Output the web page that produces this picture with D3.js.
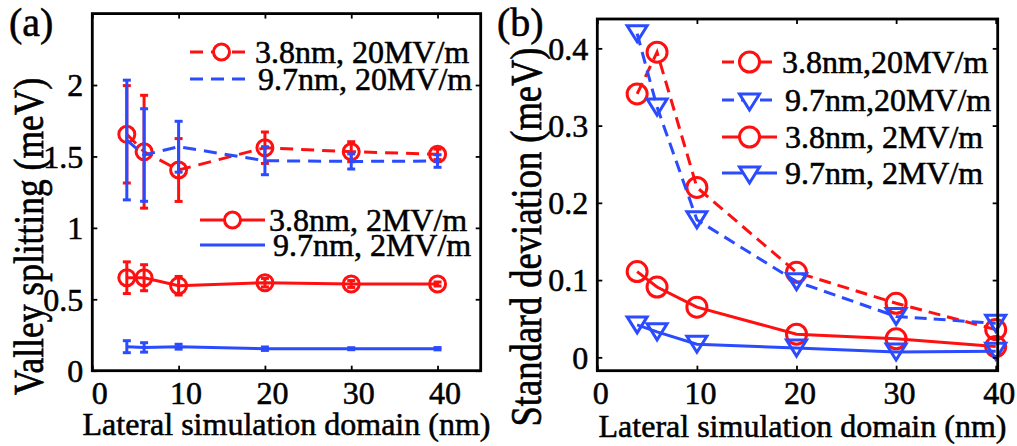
<!DOCTYPE html>
<html><head><meta charset="utf-8">
<script src="https://cdn.jsdelivr.net/npm/d3@7"></script>
<style>
body{margin:0;background:#fff}
svg{display:block}
text{font-family:"Liberation Serif","Times New Roman",Times,serif;fill:#000;stroke:#000;stroke-width:0.55px}
</style>
</head><body>
<svg id="c" width="1017" height="446"></svg>
<script>
// ---------------- data ----------------
const domains = [4, 6, 10, 20, 30, 40];              // lateral simulation domain (nm)
// panel (a): valley splitting (meV)
const vs_38_20 = [1.655, 1.533, 1.405, 1.561, 1.533, 1.515];
const vs_97_20 = [1.615, 1.510, 1.568, 1.470, 1.465, 1.468];
const vs_38_2  = [0.651, 0.651, 0.595, 0.616, 0.607, 0.607];
const vs_97_2  = [0.168, 0.163, 0.168, 0.154, 0.154, 0.154];
// panel (b): standard deviation (meV) (also error bars in (a))
const sd_38_20 = [0.341, 0.395, 0.220, 0.110, 0.070, 0.036];
const sd_97_20 = [0.419, 0.324, 0.178, 0.098, 0.053, 0.044];
const sd_38_2  = [0.111, 0.091, 0.065, 0.030, 0.024, 0.014];
const sd_97_2  = [0.042, 0.033, 0.017, 0.012, 0.007, 0.008];
const xTicks = [0, 10, 20, 30, 40];
const xTickLabels = ["0", "10", "20", "30", "40"];
const yTicksA = [0, 0.5, 1, 1.5, 2];
const yTickLabelsA = ["0", "0.5", "1", "1.5", "2"];
const yTicksB = [0, 0.1, 0.2, 0.3, 0.4];
const yTickLabelsB = ["0", "0.1", "0.2", "0.3", "0.4"];
const legendA = ["3.8nm, 20MV/m", "9.7nm, 20MV/m", "3.8nm, 2MV/m", "9.7nm, 2MV/m"];
const legendB = ["3.8nm,20MV/m", "9.7nm,20MV/m", "3.8nm, 2MV/m", "9.7nm, 2MV/m"];
const xLabel = "Lateral simulation domain (nm)";
const yLabelA = "Valley splitting (meV)";
const yLabelB = "Standard deviation (meV)";

// ---------------- style ----------------
const RED = "#ff1010", BLUE = "#2b4bff";
const LW = 3;
const svg = d3.select("#c");
svg.append("rect").attr("width", 1017).attr("height", 446).attr("fill", "#fff");

function triPath(w, h) { return `M${-w},${-h}L${w},${-h}L0,${h}Z`; }

function drawAxes(g, x, y, yTicks, yLabels, xdx) {
  const [x0, x1] = x.range(), [y0, y1] = y.range();
  const style = sel => {
    sel.select(".domain").remove();
    sel.attr("font-family", null).attr("font-size", null);
    sel.selectAll(".tick line").attr("stroke", "#000").attr("stroke-width", 1.8);
  };
  g.append("g").attr("transform", `translate(0,${y0})`)
    .call(d3.axisBottom(x).tickValues(xTicks).tickSize(-5).tickFormat((d, i) => xTickLabels[i]))
    .call(style)
    .call(s => s.selectAll(".tick text").attr("y", 33).attr("dy", null).attr("dx", xdx).attr("font-size", 32));
  g.append("g").attr("transform", `translate(0,${y1})`)
    .call(d3.axisTop(x).tickValues(xTicks).tickSize(-5).tickFormat(""))
    .call(style);
  g.append("g").attr("transform", `translate(${x0},0)`)
    .call(d3.axisLeft(y).tickValues(yTicks).tickSize(-5).tickFormat((d, i) => yLabels[i]))
    .call(style)
    .call(s => s.selectAll(".tick text").attr("x", -9).attr("dy", "0.34em").attr("font-size", 32));
  g.append("g").attr("transform", `translate(${x1},0)`)
    .call(d3.axisRight(y).tickValues(yTicks).tickSize(-5).tickFormat(""))
    .call(style);
  g.append("rect").attr("x", x0).attr("y", y1).attr("width", x1 - x0).attr("height", y0 - y1)
    .attr("fill", "none").attr("stroke", "#000").attr("stroke-width", 2.8);
}

function drawSeries(g, x, y, vals, opts) {
  const line = d3.line().x((d, i) => x(domains[i])).y(d => y(d));
  g.append("path").datum(vals).attr("d", line).attr("fill", "none")
    .attr("stroke", opts.color).attr("stroke-width", LW)
    .attr("stroke-dasharray", opts.dash || null);
  if (opts.err) {
    const eg = g.append("g").attr("stroke", opts.color).attr("stroke-width", LW);
    vals.forEach((v, i) => {
      const cx = x(domains[i]), t = y(v + opts.err[i]), b = y(v - opts.err[i]);
      eg.append("line").attr("x1", cx).attr("x2", cx).attr("y1", t).attr("y2", b);
      eg.append("line").attr("x1", cx - 4).attr("x2", cx + 4).attr("y1", t).attr("y2", t);
      eg.append("line").attr("x1", cx - 4).attr("x2", cx + 4).attr("y1", b).attr("y2", b);
    });
  }
  if (opts.marker === "circle") {
    g.selectAll(null).data(vals).enter().append("circle")
      .attr("cx", (d, i) => x(domains[i])).attr("cy", d => y(d)).attr("r", opts.r)
      .attr("fill", "none").attr("stroke", opts.color).attr("stroke-width", LW);
  } else if (opts.marker === "tri") {
    g.selectAll(null).data(vals).enter().append("path")
      .attr("transform", (d, i) => `translate(${x(domains[i])},${y(d)})`)
      .attr("d", triPath(opts.w, opts.h))
      .attr("fill", "none").attr("stroke", opts.color).attr("stroke-width", LW).attr("stroke-linejoin", "miter");
  }
}

function legendEntry(g, x1, x2, y, tx, label, opts) {
  g.append("line").attr("x1", x1).attr("x2", x2).attr("y1", y).attr("y2", y)
    .attr("stroke", opts.color).attr("stroke-width", LW).attr("stroke-dasharray", opts.dash || null);
  const mx = (x1 + x2) / 2;
  if (opts.marker === "circle") {
    g.append("circle").attr("cx", mx).attr("cy", y).attr("r", opts.r)
      .attr("fill", "#fff").attr("stroke", opts.color).attr("stroke-width", LW);
  } else if (opts.marker === "tri") {
    g.append("path").attr("transform", `translate(${mx},${y + 2})`).attr("d", triPath(opts.w, opts.h))
      .attr("fill", "#fff").attr("stroke", opts.color).attr("stroke-width", LW);
  }
  g.append("text").attr("x", tx).attr("y", y + 11).attr("font-size", 32).text(label);
}

// ---------------- panel (a) ----------------
{
  const g = svg.append("g");
  const x = d3.scaleLinear().domain([0, 45]).range([92.3, 480.7]);
  const y = d3.scaleLinear().domain([0, 2.5]).range([370.7, 13.6]);
  drawSeries(g, x, y, vs_38_20, {color: RED, dash: "13,8", err: sd_38_20, marker: "circle", r: 8});
  drawSeries(g, x, y, vs_97_20, {color: BLUE, dash: "13,8", err: sd_97_20});
  drawSeries(g, x, y, vs_38_2, {color: RED, err: sd_38_2, marker: "circle", r: 8});
  drawSeries(g, x, y, vs_97_2, {color: BLUE, err: sd_97_2});
  drawAxes(g, x, y, yTicksA, yTickLabelsA, 7);
  const lg = svg.append("g");
  legendEntry(lg, 190, 253, 52, 255, legendA[0], {color: RED, dash: "13,8", marker: "circle", r: 8});
  legendEntry(lg, 190, 253, 79, 258, legendA[1], {color: BLUE, dash: "13,8"});
  legendEntry(lg, 200, 265, 220, 269, legendA[2], {color: RED, marker: "circle", r: 8});
  legendEntry(lg, 200, 265, 245, 273, legendA[3], {color: BLUE});
  svg.append("text").attr("x", 286.5).attr("y", 435).attr("text-anchor", "middle").attr("font-size", 32).text(xLabel);
  svg.append("text").attr("transform", "translate(43,236.5) scale(1.2,1) rotate(-90)")
    .attr("text-anchor", "middle").attr("font-size", 35.5).text(yLabelA);
  svg.append("text").attr("x", 9).attr("y", 36).attr("font-size", 40).text("(a)");
}

// ---------------- panel (b) ----------------
{
  const g = svg.append("g");
  const x = d3.scaleLinear().domain([0, 40.2]).range([597.3, 997.7]);
  const y = d3.scaleLinear().domain([-0.0173, 0.438]).range([370.7, 19]);
  drawSeries(g, x, y, sd_38_20, {color: RED, dash: "12,7", marker: "circle", r: 10});
  drawSeries(g, x, y, sd_97_20, {color: BLUE, dash: "12,7", marker: "tri", w: 10, h: 8});
  drawSeries(g, x, y, sd_38_2, {color: RED, marker: "circle", r: 10});
  drawSeries(g, x, y, sd_97_2, {color: BLUE, marker: "tri", w: 10, h: 8});
  drawAxes(g, x, y, yTicksB, yTickLabelsB, 3);
  const lg = svg.append("g");
  legendEntry(lg, 722, 777, 62, 782, legendB[0], {color: RED, dash: "12,7", marker: "circle", r: 10});
  legendEntry(lg, 722, 777, 100, 785, legendB[1], {color: BLUE, dash: "12,7", marker: "tri", w: 10, h: 8});
  legendEntry(lg, 722, 777, 137, 785, legendB[2], {color: RED, marker: "circle", r: 10});
  legendEntry(lg, 722, 777, 173, 785, legendB[3], {color: BLUE, marker: "tri", w: 10, h: 8});
  svg.append("text").attr("x", 802.5).attr("y", 437).attr("text-anchor", "middle").attr("font-size", 32).text(xLabel);
  svg.append("text").attr("transform", "translate(541,237) scale(1.2,1) rotate(-90)")
    .attr("text-anchor", "middle").attr("font-size", 36.5).text(yLabelB);
  svg.append("text").attr("x", 497).attr("y", 36).attr("font-size", 40).text("(b)");
}
</script>
</body></html>
